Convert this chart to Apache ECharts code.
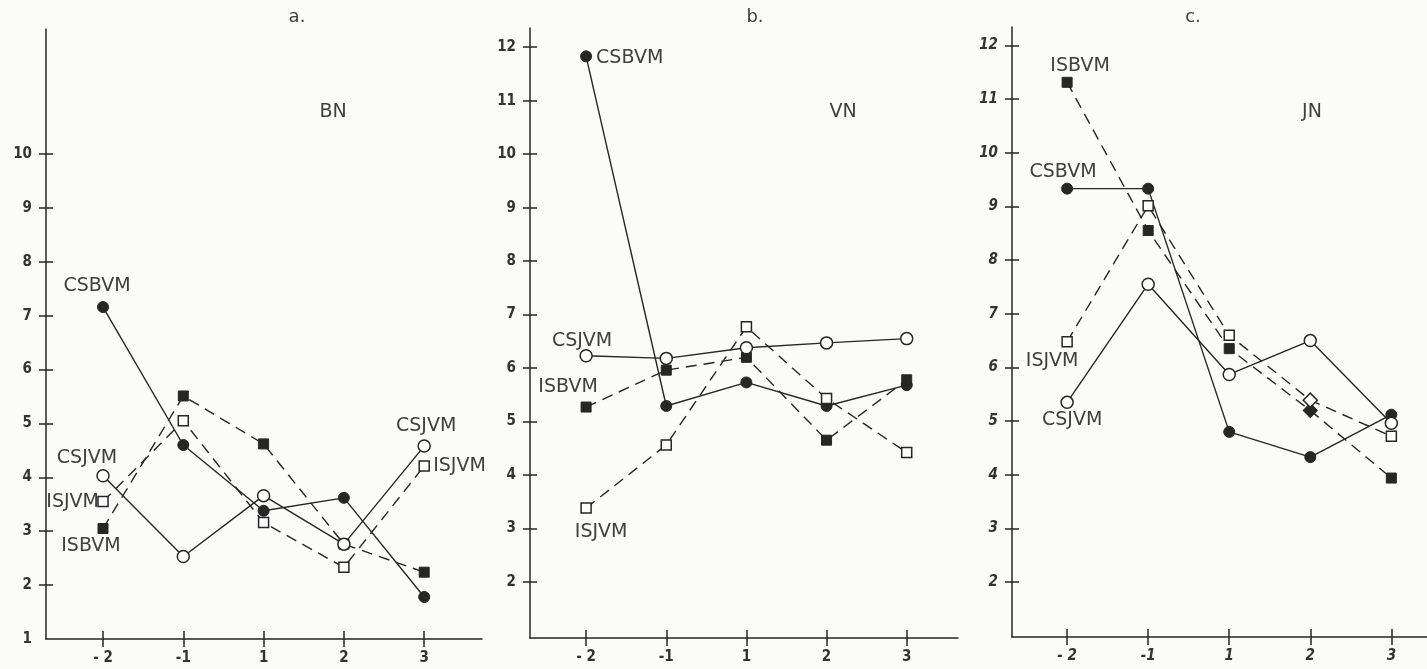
<!DOCTYPE html>
<html>
<head>
<meta charset="utf-8">
<title>BN / VN / JN</title>
<script src="https://cdn.jsdelivr.net/npm/echarts@6/dist/echarts.min.js"></script>
<style>
  html, body { margin: 0; padding: 0; background: #fbfbf9; }
  #chart { width: 1427px; height: 669px; }
</style>
</head>
<body>
<div id="chart"></div>
<script>
// Shared x categories (time steps) for all three panels
const categories = ['- 2', '-1', '1', '2', '3'];

// Y tick marks per panel
const yTicksBN = [2, 3, 4, 5, 6, 7, 8, 9, 10];
const yTicksVN = [2, 3, 4, 5, 6, 7, 8, 9, 10, 11, 12];
const yTicksJN = [2, 3, 4, 5, 6, 7, 8, 9, 10, 11, 12];
// Y tick labels per panel (BN also labels the origin)
const yLabelsBN = [1, 2, 3, 4, 5, 6, 7, 8, 9, 10];
const yLabelsVN = [2, 3, 4, 5, 6, 7, 8, 9, 10, 11, 12];
const yLabelsJN = [2, 3, 4, 5, 6, 7, 8, 9, 10, 11, 12];

// a. BN
const bnCSBVM = [7.16, 4.6, 3.38, 3.62, 1.78];
const bnCSJVM = [4.03, 2.53, 3.66, 2.76, 4.58];
const bnISJVM = [3.55, 5.05, 3.16, 2.33, 4.21];
const bnISBVM = [3.05, 5.51, 4.62, 2.76, 2.24];

// b. VN
const vnCSBVM = [11.83, 5.29, 5.73, 5.29, 5.68];
const vnCSJVM = [6.23, 6.18, 6.38, 6.47, 6.55];
const vnISBVM = [5.27, 5.96, 6.2, 4.65, 5.78];
const vnISJVM = [3.38, 4.56, 6.77, 5.43, 4.42];

// c. JN
const jnCSBVM = [9.33, 9.33, 4.8, 4.33, 5.12];
const jnCSJVM = [5.35, 7.55, 5.87, 6.5, 4.96];
const jnISBVM = [11.31, 8.55, 6.35, 5.2, 3.94];
const jnISJVM = [6.48, 9.01, 6.6, 5.39, 4.72];

const INK = '#262626';
const TEXT = '#404040';
const LABEL_FONT = 'DejaVu Sans';

// Line/marker style for each kind of series
const styles = {
  CSBVM: { dashed: false, symbol: 'circle', size: 11, filled: true },
  CSJVM: { dashed: false, symbol: 'circle', size: 12, filled: false },
  ISBVM: { dashed: true,  symbol: 'rect',   size: 10, filled: true },
  ISJVM: { dashed: true,  symbol: 'rect',   size: 10, filled: false }
};

const panels = [
  {
    title: 'a.', name: 'BN', titleX: 297, nameX: 333,
    grid: { left: 46, top: 29, width: 436, height: 610 },
    x: [-0.71, 4.72], y: [1, 12.32],
    yTicks: yTicksBN, yLabels: yLabelsBN, italic: false,
    series: { CSBVM: bnCSBVM, CSJVM: bnCSJVM, ISJVM: bnISJVM, ISBVM: bnISBVM },
    tags: [
      { s: 'CSBVM', i: 0, dx: -6, dy: -21, align: 'center' },
      { s: 'CSJVM', i: 0, dx: -16, dy: -18, align: 'center' },
      { s: 'ISJVM', i: 0, dx: -4, dy: 0, align: 'right' },
      { s: 'ISBVM', i: 0, dx: -12, dy: 18, align: 'center' },
      { s: 'CSJVM', i: 4, dx: 2, dy: -20, align: 'center' },
      { s: 'ISJVM', i: 4, dx: 9, dy: 0, align: 'left' }
    ]
  },
  {
    title: 'b.', name: 'VN', titleX: 755, nameX: 843,
    grid: { left: 530, top: 28, width: 428, height: 610 },
    x: [-0.70, 4.64], y: [0.95, 12.36],
    yTicks: yTicksVN, yLabels: yLabelsVN, italic: false,
    series: { CSBVM: vnCSBVM, CSJVM: vnCSJVM, ISBVM: vnISBVM, ISJVM: vnISJVM },
    tags: [
      { s: 'CSBVM', i: 0, dx: 10, dy: 2, align: 'left' },
      { s: 'CSJVM', i: 0, dx: -4, dy: -15, align: 'center' },
      { s: 'ISBVM', i: 0, dx: -18, dy: -20, align: 'center' },
      { s: 'ISJVM', i: 0, dx: 15, dy: 24, align: 'center' }
    ]
  },
  {
    title: 'c.', name: 'JN', titleX: 1193, nameX: 1312,
    grid: { left: 1012, top: 27, width: 415, height: 610 },
    x: [-0.68, 4.44], y: [0.98, 12.34],
    yTicks: yTicksJN, yLabels: yLabelsJN, italic: true,
    series: { CSBVM: jnCSBVM, CSJVM: jnCSJVM, ISBVM: jnISBVM, ISJVM: jnISJVM },
    diamonds: { ISBVM: [3], ISJVM: [3] },
    tags: [
      { s: 'ISBVM', i: 0, dx: 13, dy: -16, align: 'center' },
      { s: 'CSBVM', i: 0, dx: -4, dy: -17, align: 'center' },
      { s: 'ISJVM', i: 0, dx: -15, dy: 19, align: 'center' },
      { s: 'CSJVM', i: 0, dx: 5, dy: 18, align: 'center' }
    ]
  }
];

const option = {
  backgroundColor: '#fbfbf9',
  animation: false,
  grid: [], xAxis: [], yAxis: [], series: [], graphic: []
};

const tickFont = (italic) => ({
  color: '#333',
  fontFamily: 'DejaVu Sans Condensed',
  fontWeight: 'bold',
  fontStyle: italic ? 'italic' : 'normal',
  fontSize: 15
});

panels.forEach((p, pi) => {
  option.grid.push(Object.assign({ outerBoundsMode: 'none', containLabel: false }, p.grid));
  const xi = option.xAxis.length;
  const yi = option.yAxis.length;
  const xTicks = categories.map((_, i) => i);

  // x axis: line, labels and the downward half of each tick
  option.xAxis.push({
    type: 'value', gridIndex: pi, position: 'bottom', min: p.x[0], max: p.x[1],
    splitLine: { show: false },
    axisLine: { show: true, onZero: false, lineStyle: { color: INK, width: 1.5 } },
    axisTick: { show: true, length: 8, customValues: xTicks, lineStyle: { color: INK, width: 1.5 } },
    axisLabel: Object.assign({ show: true, margin: 12, customValues: xTicks,
      formatter: (v) => categories[Math.round(v)] }, tickFont(p.italic))
  });
  // upward half of each x tick
  option.xAxis.push({
    type: 'value', gridIndex: pi, position: 'bottom', min: p.x[0], max: p.x[1],
    splitLine: { show: false },
    axisLine: { show: false, onZero: false },
    axisTick: { show: true, inside: true, length: 8, customValues: xTicks, lineStyle: { color: INK, width: 1.5 } },
    axisLabel: { show: false }
  });

  // y axis: line, labels and the left half of each tick
  option.yAxis.push({
    type: 'value', gridIndex: pi, position: 'left', min: p.y[0], max: p.y[1],
    splitLine: { show: false },
    axisLine: { show: true, onZero: false, lineStyle: { color: INK, width: 1.5 } },
    axisTick: { show: true, length: 7, customValues: p.yTicks, lineStyle: { color: INK, width: 1.5 } },
    axisLabel: Object.assign({ show: true, margin: 14, customValues: p.yLabels,
      formatter: (v) => String(Math.round(v)) }, tickFont(p.italic))
  });
  // right half of each y tick
  option.yAxis.push({
    type: 'value', gridIndex: pi, position: 'left', min: p.y[0], max: p.y[1],
    splitLine: { show: false },
    axisLine: { show: false, onZero: false },
    axisTick: { show: true, inside: true, length: 7, customValues: p.yTicks, lineStyle: { color: INK, width: 1.5 } },
    axisLabel: { show: false }
  });

  Object.keys(p.series).forEach((sname) => {
    const st = styles[sname];
    const values = p.series[sname];
    const rot = (p.diamonds && p.diamonds[sname]) || [];
    const data = values.map((v, i) => {
      const item = { value: [i, v] };
      if (rot.includes(i)) item.symbolRotate = 45;
      const tag = p.tags.find((t) => t.s === sname && t.i === i);
      if (tag) {
        item.label = {
          show: true, position: 'inside', formatter: sname,
          offset: [tag.dx, tag.dy], align: tag.align, verticalAlign: 'middle',
          color: TEXT, fontFamily: LABEL_FONT, fontSize: 19
        };
      }
      return item;
    });
    option.series.push({
      type: 'line', name: sname, xAxisIndex: xi, yAxisIndex: yi,
      data: data,
      symbol: st.symbol, symbolSize: st.size, showAllSymbol: true,
      lineStyle: { color: INK, width: 1.4, type: st.dashed ? [11, 7] : 'solid' },
      itemStyle: st.filled
        ? { color: INK, borderColor: INK, borderWidth: 1 }
        : { color: '#ffffff', borderColor: INK, borderWidth: 1.5 },
      label: { show: false },
      emphasis: { disabled: true },
      z: st.filled ? 3 : 4
    });
  });

  // panel letter and panel name
  option.graphic.push({
    type: 'text', x: p.titleX, y: 17,
    style: { text: p.title, fill: TEXT, font: '18px "DejaVu Sans"', align: 'center', verticalAlign: 'middle' }
  });
  option.graphic.push({
    type: 'text', x: p.nameX, y: 112,
    style: { text: p.name, fill: TEXT, font: '19px "DejaVu Sans"', align: 'center', verticalAlign: 'middle' }
  });
});

const chart = echarts.init(document.getElementById('chart'), null, { renderer: 'canvas' });
chart.setOption(option);
</script>
</body>
</html>
